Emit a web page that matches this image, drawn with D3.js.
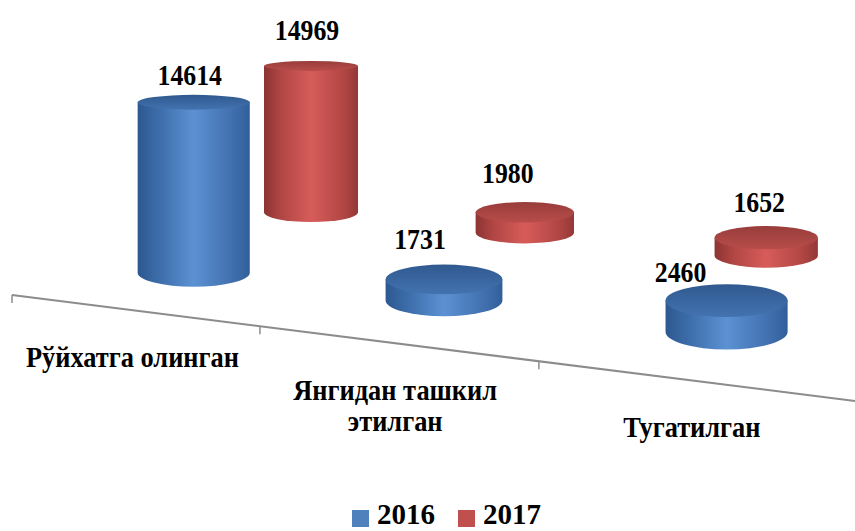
<!DOCTYPE html>
<html>
<head>
<meta charset="utf-8">
<script src="https://cdn.jsdelivr.net/npm/d3@7/dist/d3.min.js"></script>
<style>
  body { margin: 0; background: #fff; }
  text { font-family: "Liberation Serif", "Times New Roman", serif; font-weight: bold; fill: #000; }
</style>
</head>
<body>
<div id="chart"></div>
<script>
// data
const categoryLines = [["Рўйхатга олинган"], ["Янгидан ташкил", "этилган"], ["Тугатилган"]];
const seriesNames = ["2016", "2017"];
const values2016 = [14614, 1731, 2460];
const values2017 = [14969, 1980, 1652];
const valueMax = 16000;

const width = 855, height = 531;

// fake 3D floor: the category axis and one depth row per series
const axisStart = [12, 295], axisEnd = [855, 401];
const rows = [
  { start: [79, 260], end: [882, 349], r0: 55, r1: 62.5, side: "blue" },  // 2016, front
  { start: [213, 203], end: [899, 268], r0: 46, r1: 53, side: "red" }     // 2017, back
];
const labelNudge = [
  [[-4, -10], [-24, -16], [-46, -2]],
  [[-4, -21], [-17, -19], [-7, -14]]
];

const colours = {
  blue: { legend: "#4f81bd", stops: ["#2d5890", "#3c6ca8", "#5b91d3", "#416fae", "#30609a"], top: ["#30598f", "#4373b0"] },
  red: { legend: "#c0504d", stops: ["#8c3432", "#b04644", "#d75c59", "#b04644", "#953836"], top: ["#983d3b", "#b84d4a"] }
};

const band = d3.scaleBand().domain(d3.range(categoryLines.length)).range([0, 1]);
const warp = u => u / (u + 1.2 * (1 - u));   // perspective squeeze along the floor
const hScale = d3.scaleLinear().domain([0, valueMax]).range([0, valueMax * 2.08e-4]);
const lerp = (a, b, t) => a + (b - a) * t;
const ryAt = (y, r) => r * 0.00069 * (y + 89);

const svg = d3.select("#chart").append("svg")
  .attr("width", width)
  .attr("height", height);

const defs = svg.append("defs");
Object.entries(colours).forEach(([k, c]) => {
  const g = defs.append("linearGradient").attr("id", "side-" + k)
    .attr("x1", 0).attr("x2", 1).attr("y1", 0).attr("y2", 0);
  [0, 0.18, 0.5, 0.85, 1].forEach((o, i) => g.append("stop").attr("offset", o).attr("stop-color", c.stops[i]));
  const t = defs.append("linearGradient").attr("id", "top-" + k)
    .attr("x1", 0).attr("x2", 0).attr("y1", 0).attr("y2", 1);
  t.append("stop").attr("offset", 0).attr("stop-color", c.top[0]);
  t.append("stop").attr("offset", 1).attr("stop-color", c.top[1]);
});

// axis line with ticks on category boundaries
const axisPt = t => [lerp(axisStart[0], axisEnd[0], t), lerp(axisStart[1], axisEnd[1], t)];
svg.append("line")
  .attr("x1", axisStart[0]).attr("y1", axisStart[1])
  .attr("x2", axisEnd[0]).attr("y2", axisEnd[1])
  .attr("stroke", "#8c8c8c").attr("stroke-width", 2);
svg.selectAll("line.tick")
  .data(band.domain().map(i => band(i)))
  .enter().append("line")
    .attr("class", "tick")
    .attr("x1", d => axisPt(warp(d))[0]).attr("y1", d => axisPt(warp(d))[1])
    .attr("x2", d => axisPt(warp(d))[0]).attr("y2", d => axisPt(warp(d))[1] + 8)
    .attr("stroke", "#8c8c8c").attr("stroke-width", 1.5);

// category labels (multi-line ones as tspans in one text)
categoryLines.forEach((lines, i) => {
  const p = axisPt(warp(band(i) + band.bandwidth() / 2));
  const txt = svg.append("text")
    .attr("transform", `translate(${p[0]},${p[1] + 57}) scale(0.88,1)`)
    .attr("text-anchor", "middle")
    .style("font-size", "30px");
  lines.forEach((s, j) => {
    txt.append("tspan").attr("x", 0).attr("dy", j ? 31 : 0).text(s);
  });
});

// cylinders, back row first
const seriesValues = [values2016, values2017];
[1, 0].forEach(s => {
  const row = rows[s];
  seriesValues[s].forEach((v, i) => {
    const t = warp(band(i) + band.bandwidth() / 2);
    const cx = lerp(row.start[0], row.end[0], t);
    const by = lerp(row.start[1], row.end[1], t);
    const r = lerp(row.r0, row.r1, t);
    const ty = by - r * hScale(v);
    const ryb = ryAt(by, r), ryt = ryAt(ty, r);
    const g = svg.append("g").attr("class", "cyl");
    g.append("path")
      .attr("d", `M${cx - r},${ty} L${cx - r},${by} A${r},${ryb} 0 0 0 ${cx + r},${by} L${cx + r},${ty} Z`)
      .attr("fill", `url(#side-${row.side})`);
    g.append("ellipse")
      .attr("cx", cx).attr("cy", ty).attr("rx", r).attr("ry", ryt)
      .attr("fill", `url(#top-${row.side})`);
    const n = labelNudge[s][i];
    svg.append("text")
      .attr("transform", `translate(${cx + n[0]},${ty - ryt + n[1]}) scale(0.86,1)`)
      .attr("text-anchor", "middle")
      .style("font-size", "30px")
      .text(v);
  });
});

// legend
const legend = svg.append("g").attr("transform", "translate(352,524)");
seriesNames.forEach((name, i) => {
  const c = colours[rows[i].side].legend;
  const x = i * 106;
  legend.append("rect").attr("x", x).attr("y", -14).attr("width", 17).attr("height", 17).attr("fill", c);
  legend.append("text").attr("x", x + 25).attr("y", 0).style("font-size", "29px").text(name);
});
</script>
</body>
</html>
